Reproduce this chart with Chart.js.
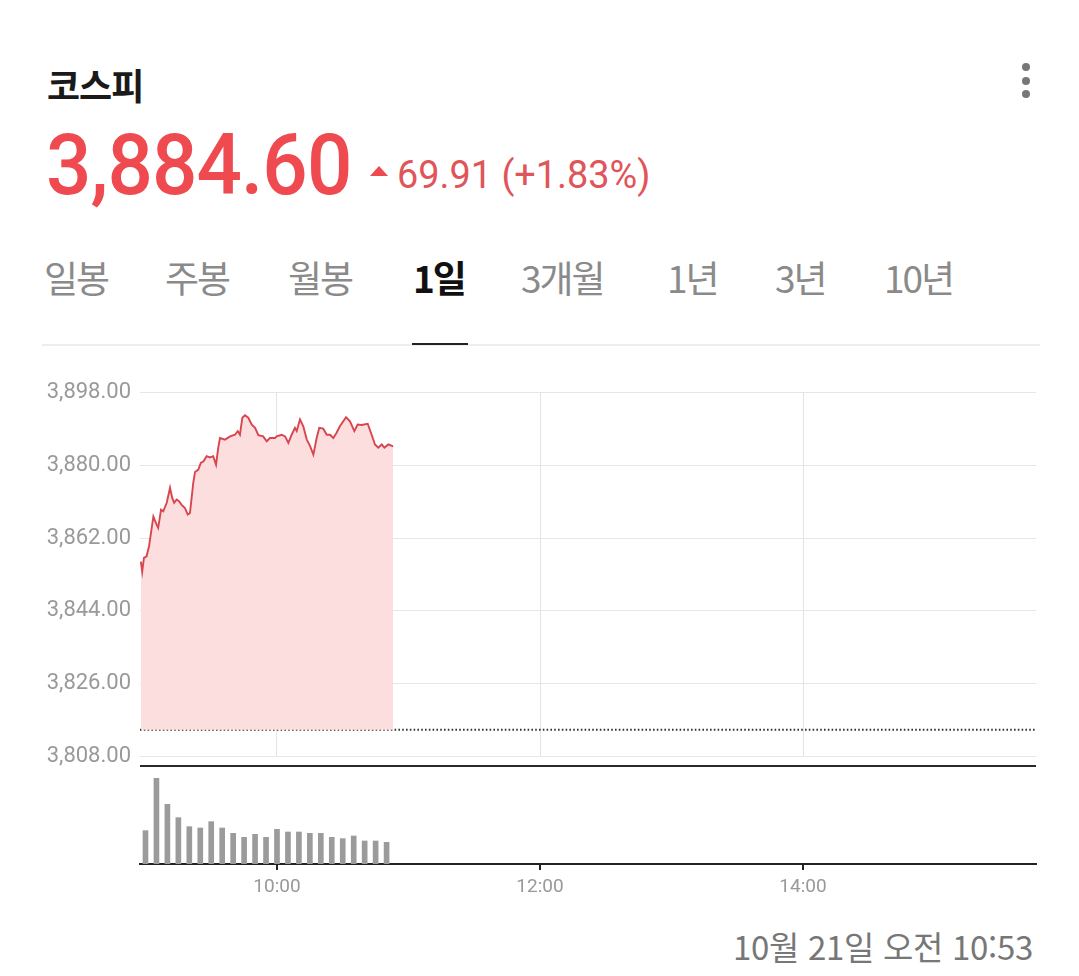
<!DOCTYPE html>
<html lang="ko">
<head>
<meta charset="utf-8">
<script src="https://cdn.jsdelivr.net/npm/chart.js@4"></script>
<style>
  body { margin: 0; background: #fff; width: 1079px; height: 976px; overflow: hidden; position: relative; font-family: Roboto, "Noto Sans CJK KR", sans-serif; }
  .abs { position: absolute; white-space: nowrap; line-height: 1; }
  #title { left: 47px; top: 58px; font: 700 36px "Noto Sans CJK KR"; color: #1a1a1a; letter-spacing: -1px; }
  #price { left: 46px; top: 114px; font: 500 86px Roboto; color: #ef4a50; transform: scaleX(0.93); transform-origin: left; letter-spacing: -1px; }
  #tri { left: 370px; top: 166px; width: 0; height: 0; border-left: 9px solid transparent; border-right: 9px solid transparent; border-bottom: 10px solid #ef4a50; }
  #change { left: 397px; top: 152px; font: 400 39px Roboto; color: #e0555a; transform: scaleX(0.97); transform-origin: left; }
  #menu span { position: absolute; left: 1022px; width: 8px; height: 8px; border-radius: 50%; background: #777; }
  .tab { position: absolute; top: 259px; font: 400 37px "Noto Sans CJK KR"; color: #8a8a8a; letter-spacing: -2px; line-height: 1; }
  .tab.on { color: #111; font-weight: 700; }
  #sep { left: 42px; top: 344px; width: 998px; height: 2px; background: #eee; }
  #under { left: 412px; top: 343px; width: 56px; height: 2px; background: #222; }
  canvas { position: absolute; left: 0; }
  #stamp { right: 46px; top: 922px; font: 400 33px "Noto Sans CJK KR"; color: #777; letter-spacing: -0.3px; }
</style>
</head>
<body>
<div class="abs" id="title">코스피</div>
<div class="abs" id="price">3,884.60</div>
<div class="abs" id="tri"></div>
<div class="abs" id="change">69.91 (+1.83%)</div>
<div id="menu"><span style="top:63px"></span><span style="top:77px"></span><span style="top:90px"></span></div>

<div class="tab" style="left:44px">일봉</div>
<div class="tab" style="left:165px">주봉</div>
<div class="tab" style="left:288px">월봉</div>
<div class="tab on" style="left:413px">1일</div>
<div class="tab" style="left:521px">3개월</div>
<div class="tab" style="left:667px">1년</div>
<div class="tab" style="left:775px">3년</div>
<div class="tab" style="left:884px">10년</div>
<div class="abs" id="sep"></div>
<div class="abs" id="under"></div>

<canvas id="priceChart" width="1079" height="409" style="top:370px;width:1079px;height:409px"></canvas>
<canvas id="volChart" width="1079" height="160" style="top:756px;width:1079px;height:160px"></canvas>

<div class="abs" id="stamp">10월 21일 오전 10:53</div>

<script>
// 코스피 1일 지수 (시각, 지수)
const priceTimes = [
  '08:57:54','08:58:30','08:59:18','09:00:30','09:01:36','09:03:36','09:05:06','09:05:48','09:07:06','09:08:06',
  '09:09:42','09:11:12','09:12:12','09:13:06','09:14:12','09:15:18','09:16:30','09:18:00','09:19:18','09:20:18',
  '09:21:48','09:22:36','09:24:06','09:25:18','09:26:24','09:27:54','09:29:24','09:30:54','09:32:12','09:33:12',
  '09:34:00','09:36:18','09:38:36','09:40:48','09:42:06','09:43:06','09:44:12','09:45:24','09:46:54','09:48:30',
  '09:50:00','09:51:30','09:53:42','09:55:18','09:56:48','09:59:06','09:59:54','10:02:06','10:03:42','10:05:12',
  '10:06:42','10:08:12','10:09:00','10:10:30','10:12:00','10:13:36','10:15:06','10:16:36','10:18:06','10:19:18',
  '10:21:06','10:22:42','10:24:12','10:25:42','10:27:12','10:28:42','10:31:30','10:33:18','10:35:18','10:36:48',
  '10:38:36','10:41:24','10:43:12','10:44:42','10:46:12','10:47:48','10:49:00','10:50:48','10:53:00'
];
const prices = [
  3856.2, 3853.7, 3857.1, 3857.5, 3859.9, 3867.3, 3865.3, 3864.5, 3869.0, 3868.6,
  3870.7, 3874.4, 3871.9, 3870.7, 3871.5, 3871.1, 3870.2, 3869.4, 3867.8, 3868.2,
  3875.6, 3878.3, 3878.9, 3880.6, 3880.9, 3882.2, 3881.9, 3882.2, 3880.1, 3884.3,
  3886.7, 3886.3, 3887.1, 3887.5, 3888.4, 3887.5, 3891.7, 3892.3, 3891.7, 3890.0,
  3889.2, 3887.4, 3887.1, 3885.9, 3886.7, 3886.7, 3887.1, 3887.5, 3887.1, 3885.5,
  3887.5, 3889.2, 3888.4, 3891.3, 3889.6, 3886.3, 3884.7, 3882.6, 3886.7, 3889.2,
  3889.0, 3887.5, 3887.5, 3886.7, 3888.0, 3889.6, 3891.8, 3890.8, 3888.4, 3890.0,
  3889.9, 3890.2, 3887.5, 3885.1, 3884.3, 3885.1, 3884.3, 3885.1, 3884.60
];
const prevClose = 3814.69;

// 5분 거래량
const volTimes = ['09:00','09:05','09:10','09:15','09:20','09:25','09:30','09:35','09:40','09:45','09:50','09:55',
                  '10:00','10:05','10:10','10:15','10:20','10:25','10:30','10:35','10:40','10:45','10:50'];
const volumes = [100, 257, 179, 139, 112, 108, 127, 108, 92, 80, 89, 80, 104, 96, 96, 92, 92, 80, 76, 84, 69, 69, 65];

const yTicks = [3808, 3826, 3844, 3862, 3880, 3898];
const xTicks = ['10:00', '12:00', '14:00'];

const toMin = s => { const p = s.split(':').map(Number); return p[0] * 60 + p[1] + (p[2] || 0) / 60; };
const fmtTime = m => String(Math.floor(m / 60)).padStart(2, '0') + ':' + String(Math.round(m % 60)).padStart(2, '0');
const xMin = 537.5, xMax = 946.3;
const setXTicks = s => { s.ticks = xTicks.map(t => ({ value: toMin(t) })); };

const priceChart = new Chart(document.getElementById('priceChart'), {
  type: 'line',
  data: {
    datasets: [{
      data: priceTimes.map((t, i) => ({ x: toMin(t), y: prices[i] })),
      borderColor: '#d9454d',
      borderWidth: 1.9,
      backgroundColor: 'rgba(252, 222, 222, 1)',
      fill: { value: prevClose },
      pointRadius: 0,
      tension: 0
    }, {
      data: [{ x: xMin, y: prevClose }, { x: xMax, y: prevClose }],
      borderColor: '#333',
      borderWidth: 2,
      borderDash: [1.6, 2.2],
      pointRadius: 0,
      fill: false
    }]
  },
  options: {
    responsive: false,
    animation: false,
    layout: { padding: { top: 22, bottom: 13, right: 43, left: 0 } },
    plugins: { legend: { display: false }, tooltip: { enabled: false } },
    scales: {
      x: {
        type: 'linear', min: xMin, max: xMax,
        afterBuildTicks: setXTicks,
        afterFit: s => { s.height = 0; },
        ticks: { display: false },
        grid: { color: '#e4e4e4', drawTicks: false },
        border: { display: false }
      },
      y: {
        min: 3808, max: 3898,
        afterBuildTicks: s => { s.ticks = yTicks.map(v => ({ value: v })); },
        afterFit: s => { s.width = 140; },
        ticks: {
          color: '#999', padding: 9,
          font: { family: 'Roboto', size: 22 },
          callback: v => v.toLocaleString('en-US', { minimumFractionDigits: 2, maximumFractionDigits: 2 })
        },
        grid: { color: '#e6e6e6', drawTicks: false },
        border: { display: false }
      }
    }
  }
});

// 거래량 영역 위쪽 굵은 선
const topLine = {
  id: 'topLine',
  afterDraw(chart) {
    const { ctx, chartArea } = chart;
    ctx.save();
    ctx.strokeStyle = '#2a2a2a';
    ctx.lineWidth = 2;
    ctx.beginPath();
    ctx.moveTo(chartArea.left, chartArea.top);
    ctx.lineTo(chartArea.right, chartArea.top);
    ctx.stroke();
    ctx.restore();
  }
};

const volChart = new Chart(document.getElementById('volChart'), {
  type: 'bar',
  data: {
    datasets: [{
      data: volTimes.map((t, i) => ({ x: toMin(t), y: volumes[i] })),
      backgroundColor: '#9b9b9b',
      barThickness: 5
    }]
  },
  options: {
    responsive: false,
    animation: false,
    layout: { padding: { top: 10, bottom: 0, left: 140, right: 43 } },
    plugins: { legend: { display: false }, tooltip: { enabled: false } },
    scales: {
      x: {
        type: 'linear', min: xMin, max: xMax, offset: false,
        afterBuildTicks: setXTicks,
        afterFit: s => { s.height = 52; },
        ticks: { color: '#999', padding: 6, font: { family: 'Roboto', size: 19 }, callback: v => fmtTime(v) },
        grid: { offset: false, drawOnChartArea: false, drawTicks: true, tickLength: 6, color: '#222', lineWidth: 2 },
        border: { display: true, color: '#222', width: 2 }
      },
      y: { display: false, min: 0, max: 294 }
    }
  },
  plugins: [topLine]
});
</script>
</body>
</html>
